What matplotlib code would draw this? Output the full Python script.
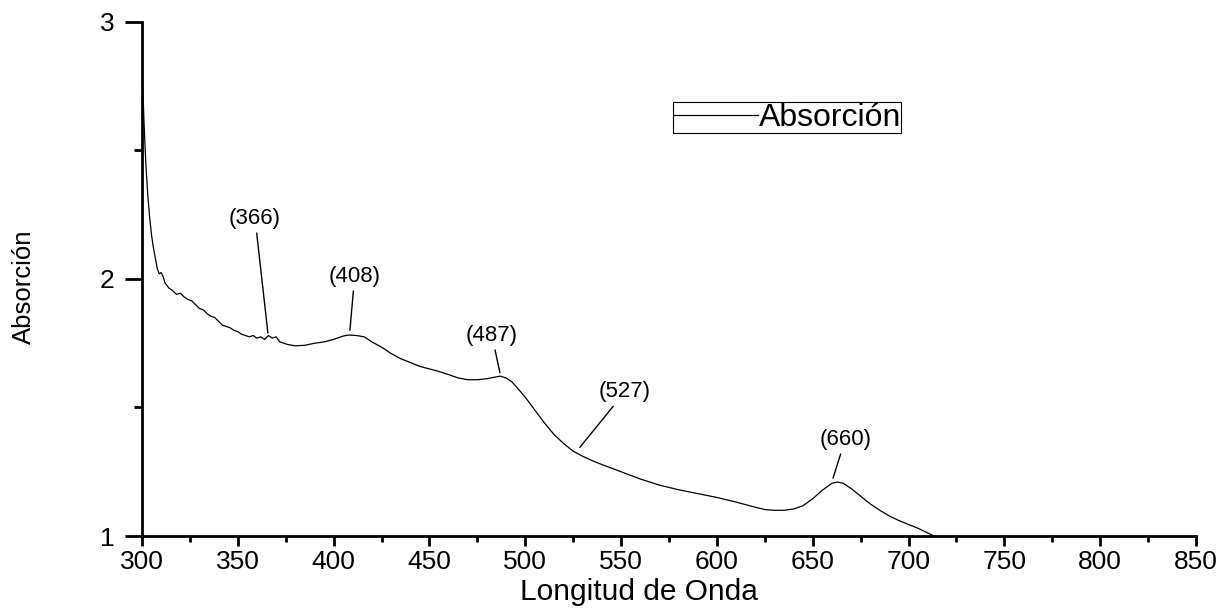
import matplotlib
matplotlib.use("Agg")
import matplotlib.pyplot as plt
from matplotlib.ticker import MultipleLocator

plt.rcParams['font.family'] = ['Liberation Sans', 'DejaVu Sans']

# absorption spectrum
wavelength = [300, 301, 302, 303, 304, 305, 306, 307, 308, 309, 310, 311, 312, 314, 316,
              318, 320, 322, 324, 326, 328, 330, 332, 334, 336, 338, 340, 342, 344, 346,
              348, 350, 352, 354, 356, 358, 360, 362, 364, 366, 368, 370, 372, 374, 376,
              380, 385, 390, 395, 400, 405, 408, 412, 416, 420, 425, 430, 435, 440, 445,
              450, 455, 460, 465, 470, 475, 480, 484, 487, 490, 493, 496, 500, 505, 510,
              515, 520, 525, 530, 535, 540, 550, 560, 570, 580, 590, 600, 610, 620, 625,
              630, 635, 640, 645, 650, 655, 660, 663, 666, 670, 675, 680, 685, 690, 695,
              700, 705, 710, 716]
absorb = [2.85, 2.62, 2.45, 2.33, 2.24, 2.17, 2.12, 2.08, 2.04, 2.02, 2.025, 2.01, 1.985, 1.965, 1.955,
          1.94, 1.945, 1.93, 1.92, 1.915, 1.90, 1.885, 1.88, 1.865, 1.855, 1.85, 1.835, 1.82, 1.815, 1.81,
          1.80, 1.795, 1.785, 1.78, 1.775, 1.78, 1.77, 1.775, 1.765, 1.78, 1.77, 1.775, 1.755, 1.75, 1.745,
          1.74, 1.742, 1.75, 1.755, 1.765, 1.778, 1.782, 1.78, 1.775, 1.755, 1.735, 1.71, 1.69, 1.675, 1.66,
          1.65, 1.64, 1.628, 1.615, 1.608, 1.608, 1.612, 1.618, 1.622, 1.615, 1.60, 1.575, 1.54, 1.49, 1.44,
          1.395, 1.36, 1.33, 1.31, 1.293, 1.278, 1.25, 1.222, 1.198, 1.18, 1.165, 1.15, 1.132, 1.112, 1.103,
          1.10, 1.10, 1.105, 1.118, 1.145, 1.178, 1.205, 1.21, 1.205, 1.185, 1.155, 1.125, 1.10, 1.078, 1.06,
          1.045, 1.03, 1.012, 0.99]

# peak labels: text, point on curve, text position
peak_labels = ["(366)", "(408)", "(487)", "(527)", "(660)"]
peak_points = [(365.7, 1.79), (408.5, 1.80), (486.8, 1.635), (528.5, 1.345), (660.6, 1.225)]
label_pos = [(359, 2.195), (411, 1.97), (482.6, 1.74), (552, 1.52), (667, 1.335)]

fig = plt.figure(figsize=(12.25, 6.1), dpi=100)
ax = fig.add_axes([0.1159, 0.1213, 0.8604, 0.8427])

ax.plot(wavelength, absorb, color='black', lw=0.9, label='Absorción')

for txt, pt, pos in zip(peak_labels, peak_points, label_pos):
    ax.annotate(txt, xy=pt, xytext=pos, ha='center', va='bottom', fontsize=16,
                arrowprops=dict(arrowstyle='-', color='black', lw=1, shrinkA=1, shrinkB=0))

ax.set_xlim(300, 850)
ax.set_ylim(1, 3)
ax.xaxis.set_major_locator(MultipleLocator(50))
ax.xaxis.set_minor_locator(MultipleLocator(25))
ax.yaxis.set_major_locator(MultipleLocator(1))
ax.yaxis.set_minor_locator(MultipleLocator(0.5))

for s in ['top', 'right']:
    ax.spines[s].set_visible(False)
for s in ['left', 'bottom']:
    ax.spines[s].set_linewidth(2)

ax.tick_params(axis='x', which='major', direction='out', length=7, width=2, labelsize=19, pad=3)
ax.tick_params(axis='x', which='minor', direction='out', length=4, width=2)
ax.tick_params(axis='y', which='major', direction='out', length=12, width=2, labelsize=19, pad=8)
ax.tick_params(axis='y', which='minor', direction='out', length=6, width=2)

ax.set_xlabel('Longitud de Onda', fontsize=21.5)
ax.xaxis.set_label_coords(0.4715, -0.082)
ax.set_ylabel('Absorción', fontsize=18.5)
ax.yaxis.set_label_coords(-0.101, 0.485)

leg = ax.legend(loc='upper left', bbox_to_anchor=(0.504, 0.844), fontsize=23,
                handlelength=2.65, handletextpad=0.0, borderpad=0.02, borderaxespad=0,
                fancybox=False, framealpha=1)
leg.get_frame().set_edgecolor('black')
leg.get_frame().set_linewidth(0.8)

fig.savefig('out.png', dpi=100)
